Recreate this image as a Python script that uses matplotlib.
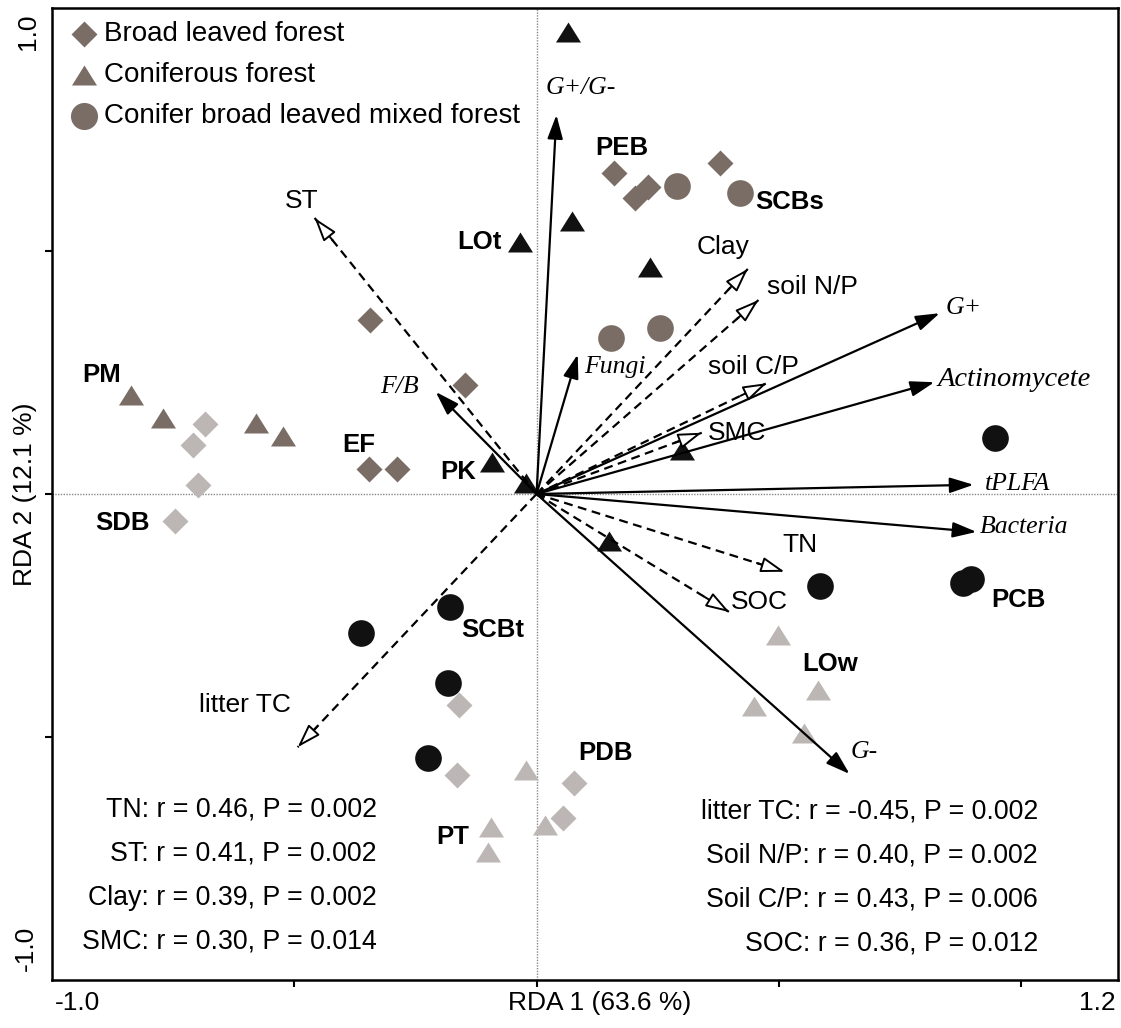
import numpy as np
import matplotlib
matplotlib.use("Agg")
import matplotlib.pyplot as plt

plt.rcParams['font.family'] = ['Liberation Sans', 'DejaVu Sans']

# site scores (RDA1, RDA2), grouped by forest type and shade
broad_brown_x = [0.159, 0.204, 0.229, 0.378, -0.343, -0.147, -0.345, -0.289]
broad_brown_y = [0.660, 0.609, 0.632, 0.681, 0.358, 0.224, 0.051, 0.051]
broad_light_x = [-0.685, -0.710, -0.698, -0.747, -0.161, -0.165, 0.078, 0.054]
broad_light_y = [0.144, 0.101, 0.019, -0.056, -0.434, -0.578, -0.595, -0.667]

conif_brown_x = [-0.836, -0.770, -0.578, -0.524]
conif_brown_y = [0.204, 0.156, 0.146, 0.119]
conif_light_x = [-0.021, -0.093, -0.101, 0.017, 0.499, 0.580, 0.448, 0.551]
conif_light_y = [-0.568, -0.685, -0.737, -0.681, -0.290, -0.403, -0.436, -0.492]
conif_black_x = [0.064, 0.074, -0.035, 0.235, -0.091, -0.021, 0.301, 0.149]
conif_black_y = [0.951, 0.562, 0.519, 0.467, 0.066, 0.023, 0.091, -0.097]

mixed_brown_x = [0.289, 0.419, 0.153, 0.254]
mixed_brown_y = [0.634, 0.619, 0.321, 0.342]
mixed_black_x = [0.947, 0.586, 0.881, 0.896, -0.178, -0.363, -0.182, -0.223]
mixed_black_y = [0.115, -0.189, -0.183, -0.175, -0.233, -0.286, -0.389, -0.543]

# microbial variables (solid arrows)
micro_names = ["G+/G-", "Fungi", "F/B", "G+", "Actinomycete", "tPLFA", "Bacteria", "G-"]
micro_x = [0.041, 0.085, -0.208, 0.832, 0.821, 0.902, 0.908, 0.646]
micro_y = [0.780, 0.287, 0.210, 0.372, 0.230, 0.019, -0.078, -0.576]

# environmental variables (dashed arrows)
env_names = ["ST", "litter TC", "Clay", "soil N/P", "soil C/P", "SMC", "TN", "SOC"]
env_x = [-0.458, -0.493, 0.436, 0.458, 0.475, 0.341, 0.512, 0.398]
env_y = [0.568, -0.521, 0.463, 0.399, 0.228, 0.126, -0.160, -0.243]

site_names = ["PEB", "SCBs", "LOt", "PM", "EF", "PK", "SDB", "SCBt", "PT", "LOw", "PDB", "PCB"]

stats_left = ["TN: r = 0.46, P = 0.002", "ST: r = 0.41, P = 0.002",
              "Clay: r = 0.39, P = 0.002", "SMC: r = 0.30, P = 0.014"]
stats_right = ["litter TC: r = -0.45, P = 0.002", "Soil N/P: r = 0.40, P = 0.002",
               "Soil C/P: r = 0.43, P = 0.006", "SOC: r = 0.36, P = 0.012"]

BROWN = '#7a6d66'
LIGHT = '#bcb6b4'
BLACK = '#111111'
TRI = [(-1, -0.8), (1, -0.8), (0, 0.8)]

W, H = 1121, 1028
fig = plt.figure(figsize=(W / 100, H / 100), dpi=100)
ax = fig.add_axes([52 / W, 48 / H, 1066 / W, 972 / H])
ax.set_xlim(-1.0, 1.2)
ax.set_ylim(-1.0, 1.0)

ax.axhline(0, color='#888888', lw=1.0, ls=(0, (1, 1)), zorder=1)
ax.axvline(0, color='#888888', lw=1.0, ls=(0, (1, 1)), zorder=1)

# points
ms_d, ms_t, ms_o = 13.7, 18, 19.2
ax.plot(broad_brown_x, broad_brown_y, 'D', ms=ms_d, color=BROWN, mec='none', zorder=3)
ax.plot(broad_light_x, broad_light_y, 'D', ms=ms_d, color=LIGHT, mec='none', zorder=3)
ax.plot(conif_brown_x, conif_brown_y, marker=TRI, ls='none', ms=ms_t, color=BROWN, mec='none', zorder=3)
ax.plot(conif_light_x, conif_light_y, marker=TRI, ls='none', ms=ms_t, color=LIGHT, mec='none', zorder=3)
ax.plot(conif_black_x, conif_black_y, marker=TRI, ls='none', ms=ms_t, color=BLACK, mec='none', zorder=3)
ax.plot(mixed_brown_x, mixed_brown_y, 'o', ms=ms_o, color=BROWN, mec='none', zorder=3)
ax.plot(mixed_black_x, mixed_black_y, 'o', ms=ms_o, color=BLACK, mec='none', zorder=3)

head = '-|>,head_length=1.45,head_width=0.47'

# solid arrows
for x, y in zip(micro_x, micro_y):
    ax.annotate('', xy=(x, y), xytext=(0, 0),
                arrowprops=dict(arrowstyle=head, mutation_scale=10, color='black',
                                lw=1.6, shrinkA=0, shrinkB=0), zorder=5)

# dashed arrows with open heads
for x, y in zip(env_x, env_y):
    ax.plot([0, x], [0, y], color='black', lw=1.6, ls=(0, (4, 2.5)), zorder=4)
    L = np.hypot(x, y)
    bx, by = x - 0.06 * x / L, y - 0.06 * y / L
    ax.annotate('', xy=(x, y), xytext=(bx, by),
                arrowprops=dict(arrowstyle=head, mutation_scale=10, fc='white', ec='black',
                                lw=1.4, shrinkA=0, shrinkB=0), zorder=6)

# arrow labels
micro_lab = [(0.091, 0.835), (0.161, 0.261), (-0.283, 0.220), (0.881, 0.383),
             (0.985, 0.235), (0.993, 0.021), (1.007, -0.068), (0.677, -0.531)]
micro_fs = [18.5, 18.5, 18.5, 18.5, 20.5, 18.5, 18.5, 18.5]
for name, (lx, ly), fs in zip(micro_names, micro_lab, micro_fs):
    ax.text(lx, ly, name, family='Liberation Serif', style='italic', fontsize=fs,
            ha='center', va='center', zorder=2)

env_lab = [(-0.485, 0.603), (-0.601, -0.434), (0.384, 0.508), (0.570, 0.426),
           (0.448, 0.261), (0.413, 0.126), (0.543, -0.105), (0.460, -0.222)]
for name, (lx, ly) in zip(env_names, env_lab):
    ax.text(lx, ly, name, fontsize=19, ha='center', va='center', zorder=2)

site_lab = [(0.177, 0.712), (0.522, 0.601), (-0.118, 0.519), (-0.898, 0.245),
            (-0.367, 0.101), (-0.161, 0.045), (-0.855, -0.060), (-0.091, -0.280),
            (-0.173, -0.706), (0.605, -0.349), (0.142, -0.533), (0.995, -0.218)]
for name, (lx, ly) in zip(site_names, site_lab):
    ax.text(lx, ly, name, fontsize=18.5, fontweight='bold', ha='center', va='center', zorder=2)

# legend
def ax_px(px, py):
    return (px - 52) / 1066, (980 - py) / 972

leg = [("Broad leaved forest", 'D', 13.7, 34),
       ("Coniferous forest", TRI, 18, 75),
       ("Conifer broad leaved mixed forest", 'o', 19.5, 116)]
for lab, mk, ms, py in leg:
    mx, my = ax_px(84, py)
    ax.plot([mx], [my], marker=mk, ls='none', ms=ms, color=BROWN, mec='none',
            transform=ax.transAxes, clip_on=False)
    tx, ty = ax_px(104, py)
    ax.text(tx, ty, lab, fontsize=20, va='center', ha='left', transform=ax.transAxes)

# statistics
for i, s in enumerate(stats_left):
    tx, ty = ax_px(377, 810 + i * 44)
    ax.text(tx, ty, s, fontsize=19.3, ha='right', va='center', transform=ax.transAxes)
for i, s in enumerate(stats_right):
    tx, ty = ax_px(1038, 812 + i * 44)
    ax.text(tx, ty, s, fontsize=19.3, ha='right', va='center', transform=ax.transAxes)

# axes styling
for sp in ax.spines.values():
    sp.set_linewidth(1.8)
ax.set_xticks([-0.5, 0, 0.5, 1.0])
ax.set_yticks([-0.5, 0, 0.5])
ax.tick_params(direction='out', length=5, width=1.5, labelbottom=False, labelleft=False)

fig.text(77 / W, 1 - 1003 / H, "-1.0", fontsize=19, ha='center', va='center')
fig.text(1097 / W, 1 - 1003 / H, "1.2", fontsize=19, ha='center', va='center')
fig.text(28 / W, 1 - 32 / H, "1.0", fontsize=19, ha='center', va='center', rotation=90)
fig.text(26 / W, 1 - 948 / H, "-1.0", fontsize=19, ha='center', va='center', rotation=90)
fig.text(600 / W, 1 - 1003 / H, "RDA 1 (63.6 %)", fontsize=19, ha='center', va='center')
fig.text(25 / W, 1 - 494 / H, "RDA 2 (12.1 %)", fontsize=19, ha='center', va='center', rotation=90)

fig.savefig("out.png", dpi=100)
